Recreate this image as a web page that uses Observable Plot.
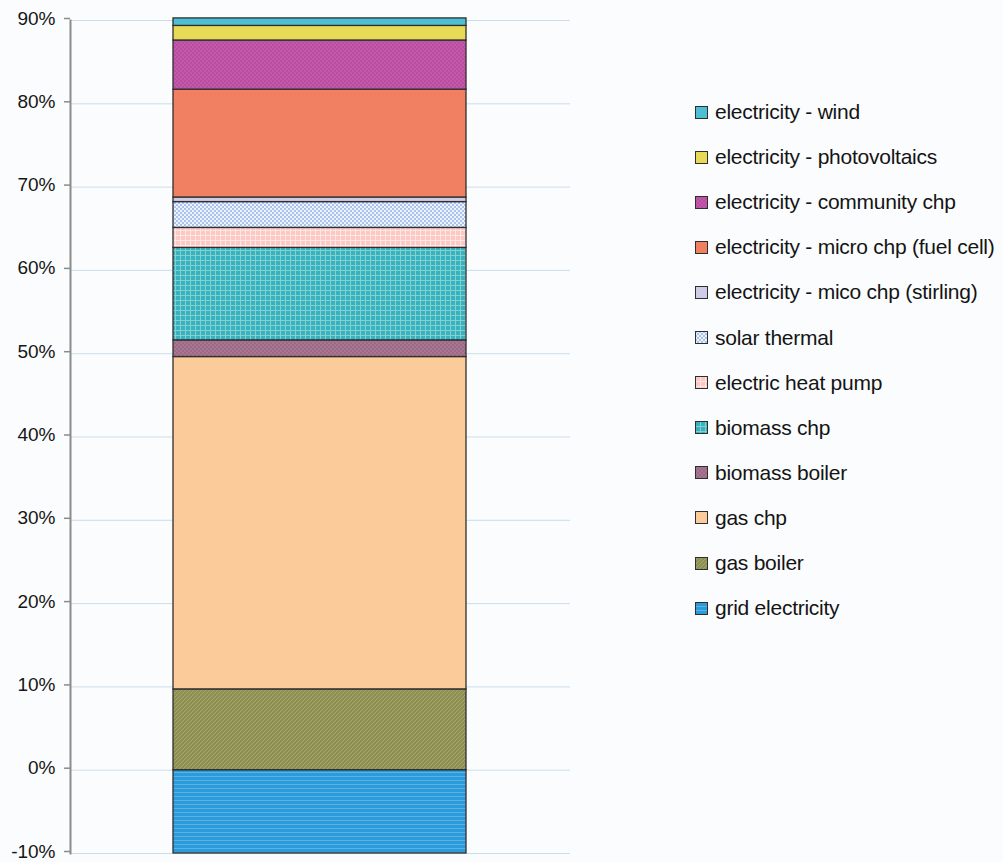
<!DOCTYPE html>
<html>
<head>
<meta charset="utf-8">
<script src="https://cdn.jsdelivr.net/npm/d3@7"></script>
<script src="https://cdn.jsdelivr.net/npm/@observablehq/plot@0.6"></script>
<style>
  html, body { margin: 0; padding: 0; background: #fbfcfd; }
  #wrap { position: relative; width: 1003px; height: 862px; overflow: hidden; font-family: "Liberation Sans", Arial, sans-serif; }
  #chart { position: absolute; left: 0; top: 0; }
  #legend { position: absolute; left: 695px; top: 0; }
  .item { position: absolute; left: 0; display: flex; align-items: center; white-space: nowrap; font-size: 21px; color: #141414; letter-spacing: -0.25px; }
  .item svg { margin-right: 7px; flex: none; }
</style>
</head>
<body>
<!-- shared fill patterns for the stack layers and the legend swatches -->
<svg width="0" height="0" style="position:absolute">
  <defs>
    <pattern id="f-grid" width="4" height="4" patternUnits="userSpaceOnUse">
      <rect width="4" height="4" fill="#2c9bdb"/>
      <rect y="0" width="4" height="1" fill="#5ab3e4"/>
    </pattern>
    <pattern id="f-gasboiler" width="4" height="4" patternUnits="userSpaceOnUse">
      <rect width="4" height="4" fill="#8c9055"/>
      <path d="M-1,1 l2,-2 M0,4 l4,-4 M3,5 l2,-2" stroke="#a8a866" stroke-width="1"/>
    </pattern>
    <pattern id="f-gaschp" width="4" height="4" patternUnits="userSpaceOnUse">
      <rect width="4" height="4" fill="#fbcc99"/>
    </pattern>
    <pattern id="f-bioboiler" width="4" height="4" patternUnits="userSpaceOnUse">
      <rect width="4" height="4" fill="#a87690"/>
      <rect width="2" height="2" fill="#9b6a86"/>
      <rect x="2" y="2" width="2" height="2" fill="#9b6a86"/>
    </pattern>
    <pattern id="f-biochp" width="5" height="5" patternUnits="userSpaceOnUse">
      <rect width="5" height="5" fill="#36b3c0"/>
      <rect x="0" width="1" height="5" fill="#86cfcf"/>
      <rect y="0" width="5" height="1" fill="#86cfcf"/>
    </pattern>
    <pattern id="f-heatpump" width="5" height="5" patternUnits="userSpaceOnUse">
      <rect width="5" height="5" fill="#fbc8c4"/>
      <rect x="0" width="1" height="5" fill="#fde6e3"/>
      <rect y="0" width="5" height="1" fill="#fde6e3"/>
    </pattern>
    <pattern id="f-solar" width="4" height="4" patternUnits="userSpaceOnUse">
      <rect width="4" height="4" fill="#eef2fb"/>
      <rect width="2" height="2" fill="#a9c4ec"/>
      <rect x="2" y="2" width="2" height="2" fill="#a9c4ec"/>
    </pattern>
    <pattern id="f-stirling" width="4" height="4" patternUnits="userSpaceOnUse">
      <rect width="4" height="4" fill="#cfcde6"/>
    </pattern>
    <pattern id="f-fuelcell" width="4" height="4" patternUnits="userSpaceOnUse">
      <rect width="4" height="4" fill="#f08061"/>
    </pattern>
    <pattern id="f-community" width="4" height="4" patternUnits="userSpaceOnUse">
      <rect width="4" height="4" fill="#c458ab"/>
      <rect width="2" height="2" fill="#b84ea0"/>
      <rect x="2" y="2" width="2" height="2" fill="#b84ea0"/>
    </pattern>
    <pattern id="f-pv" width="4" height="4" patternUnits="userSpaceOnUse">
      <rect width="4" height="4" fill="#e7da57"/>
    </pattern>
    <pattern id="f-wind" width="4" height="4" patternUnits="userSpaceOnUse">
      <rect width="4" height="4" fill="#4cbfd2"/>
    </pattern>
  </defs>
</svg>
<div id="wrap">
  <div id="chart"></div>
  <div id="legend"></div>
</div>
<script>
// Energy supply mix, stacked from the bottom layer upwards (percent)
const categories = [
  "grid electricity",
  "gas boiler",
  "gas chp",
  "biomass boiler",
  "biomass chp",
  "electric heat pump",
  "solar thermal",
  "electricity - mico chp (stirling)",
  "electricity - micro chp (fuel cell)",
  "electricity - community chp",
  "electricity - photovoltaics",
  "electricity - wind"
];
const shares = [-10, 9.7, 39.9, 2.0, 11.1, 2.4, 3.1, 0.55, 12.95, 5.9, 1.75, 0.9];
const yTicks = [-10, 0, 10, 20, 30, 40, 50, 60, 70, 80, 90];

// fill for each layer, same order as categories
const layerFills = [
  "url(#f-grid)", "url(#f-gasboiler)", "url(#f-gaschp)", "url(#f-bioboiler)",
  "url(#f-biochp)", "url(#f-heatpump)", "url(#f-solar)", "url(#f-stirling)",
  "url(#f-fuelcell)", "url(#f-community)", "url(#f-pv)", "url(#f-wind)"
];

const rows = categories.map((c, i) => ({group: "mix", category: c, share: shares[i]}));

const chart = Plot.plot({
  width: 570,
  height: 862,
  marginLeft: 70,
  marginRight: 0,
  marginTop: 20,
  marginBottom: 9,
  style: {background: "transparent", fontFamily: "'Liberation Sans', Arial, sans-serif", fontSize: "19px", overflow: "visible"},
  x: {domain: ["mix"], axis: null, padding: 0.26},
  y: {domain: [-10, 90], axis: null},
  color: {domain: categories, range: layerFills},
  marks: [
    Plot.gridY(yTicks, {stroke: "#c9deec", strokeOpacity: 1, strokeWidth: 1}),
    Plot.axisY(yTicks, {
      tickSize: 6, tickPadding: 9, stroke: "#8b8b8b", strokeWidth: 1.5,
      fill: "#161616", fontSize: 19, label: null, dy: -2,
      tickFormat: d => d + "%"
    }),
    Plot.frame({anchor: "left", stroke: "#8b8b8b", strokeWidth: 2}),
    Plot.barY(rows, Plot.stackY({
      x: "group", y: "share", fill: "category",
      stroke: "#2e2e2e", strokeWidth: 1.3
    }))
  ]
});
document.getElementById("chart").append(chart);

// legend: top layer first
const legend = document.getElementById("legend");
const rowTop = 112, rowGap = 45.1;
categories.slice().reverse().forEach((name, k) => {
  const i = categories.indexOf(name);
  const item = document.createElement("div");
  item.className = "item";
  item.style.top = (rowTop + k * rowGap - 12) + "px";
  item.style.height = "24px";
  item.innerHTML =
    `<svg width="13" height="13"><rect x="0.5" y="0.5" width="12" height="12" fill="${layerFills[i]}" stroke="#2e2e2e" stroke-width="1"/></svg><span>${name}</span>`;
  legend.append(item);
});
</script>
</body>
</html>
